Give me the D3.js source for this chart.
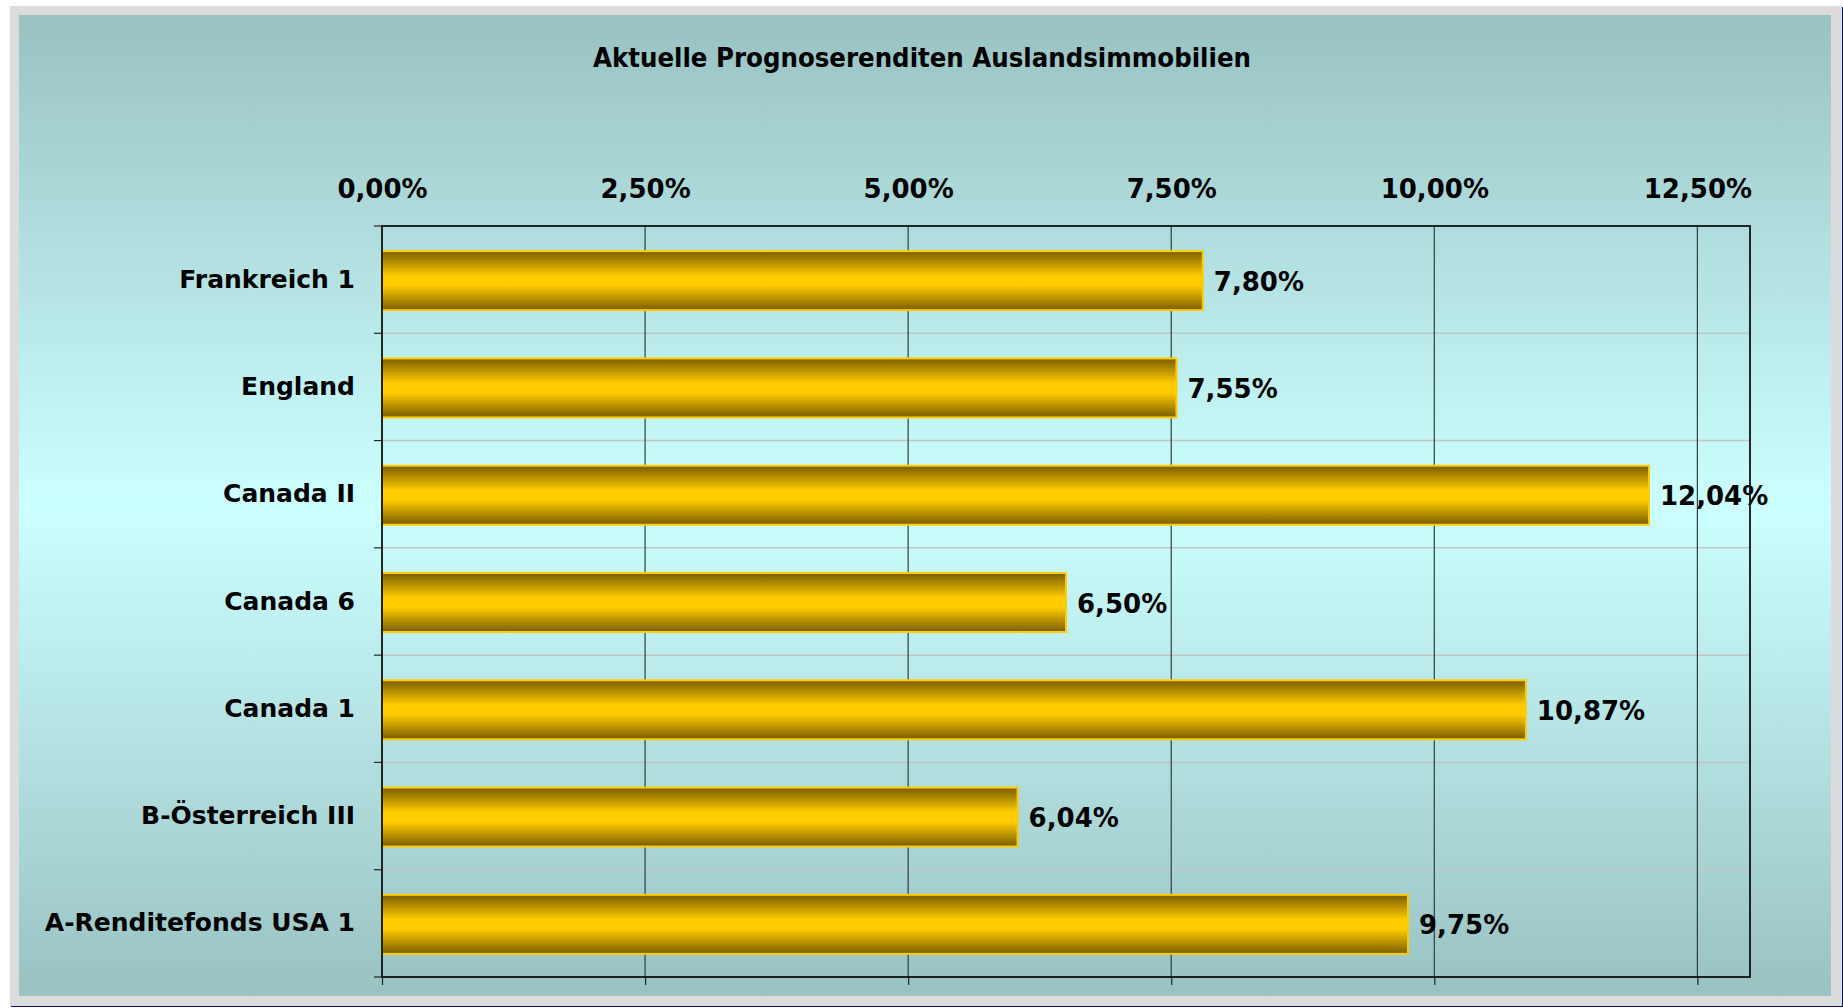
<!DOCTYPE html>
<html>
<head>
<meta charset="utf-8">
<script src="https://cdn.jsdelivr.net/npm/d3@7"></script>
<style>
    body { margin: 0; background: #ffffff; }
    svg { display: block; }
    text { font-family: "DejaVu Sans", Verdana, sans-serif; font-weight: bold; fill: #000; }
</style>
</head>
<body>
<svg id="chart" width="1843" height="1008"></svg>
<script>
// chart data
const categories = ["Frankreich 1", "England", "Canada II", "Canada 6", "Canada 1", "B-Österreich III", "A-Renditefonds USA 1"];
const values = [7.80, 7.55, 12.04, 6.50, 10.87, 6.04, 9.75];
const tickValues = [0, 2.5, 5, 7.5, 10, 12.5];
const title = "Aktuelle Prognoserenditen Auslandsimmobilien";

const svg = d3.select('#chart');

const plot = { left: 382, right: 1750, top: 226, bottom: 977 };

// german number format
const de = d3.formatLocale({ decimal: ",", thousands: ".", grouping: [3], currency: ["", " €"] });
const fmt = de.format(".2f");
const pct = function(v){ return fmt(v) + "%"; };

const defs = svg.append('defs');

// background gradient, dark at top and bottom, light in the middle
let bg = defs.append('linearGradient')
    .attr('id', 'bgGrad')
    .attr('x1', 0).attr('y1', 0).attr('x2', 0).attr('y2', 1);
bg.append('stop').attr('offset', '0%').attr('stop-color', '#99c2c1');
bg.append('stop').attr('offset', '50%').attr('stop-color', '#ccffff');
bg.append('stop').attr('offset', '100%').attr('stop-color', '#99c2c1');

// bar gradient (gold tube)
let barGrad = defs.append('linearGradient')
    .attr('id', 'barGrad')
    .attr('x1', 0).attr('y1', 0).attr('x2', 0).attr('y2', 1);
barGrad.append('stop').attr('offset', '0%').attr('stop-color', '#7a5c00');
barGrad.append('stop').attr('offset', '42%').attr('stop-color', '#ffcc00');
barGrad.append('stop').attr('offset', '58%').attr('stop-color', '#ffcc00');
barGrad.append('stop').attr('offset', '100%').attr('stop-color', '#7a5c00');

// frame
svg.append('rect')
    .attr('x', 11).attr('y', 7).attr('width', 1832).attr('height', 1000)
    .style('fill', '#0a1466');
svg.append('rect')
    .attr('x', 10).attr('y', 6).attr('width', 1832).attr('height', 1000)
    .style('fill', '#dcdcdc');
svg.append('rect')
    .attr('x', 19).attr('y', 15).attr('width', 1812).attr('height', 981)
    .style('fill', 'url(#bgGrad)');

// title
svg.append('text')
    .attr('x', 922)
    .attr('y', 67)
    .attr('text-anchor', 'middle')
    .style('font-size', '26px')
    .attr('textLength', 658)
    .attr('lengthAdjust', 'spacingAndGlyphs')
    .text(title);

// scales
const x = d3.scaleLinear()
    .domain([0, 13])
    .range([plot.left, plot.right]);

const y = d3.scaleBand()
    .domain(categories)
    .range([plot.top, plot.bottom])
    .paddingInner(0.45)
    .paddingOuter(0.225);

const step = y.step();

// horizontal light gridlines between categories
let bounds = d3.range(1, categories.length).map(i => plot.top + i * step);
svg.append('g').selectAll('line')
    .data(bounds)
    .enter()
    .append('line')
    .attr('x1', plot.left).attr('x2', plot.right)
    .attr('y1', d => d).attr('y2', d => d)
    .style('stroke', '#c0c4c4')
    .style('stroke-width', 1.5);

// vertical gridlines
svg.append('g').selectAll('line')
    .data(tickValues.slice(1))
    .enter()
    .append('line')
    .attr('x1', d => x(d)).attr('x2', d => x(d))
    .attr('y1', plot.top).attr('y2', plot.bottom)
    .style('stroke', '#2e3f3f')
    .style('stroke-width', 1.2);

// bottom axis ticks (no labels)
let xBottom = d3.axisBottom(x)
    .tickValues(tickValues)
    .tickSize(8)
    .tickFormat('');
let gb = svg.append('g')
    .attr('transform', 'translate(0,' + plot.bottom + ')')
    .call(xBottom);
gb.select('.domain').remove();
gb.selectAll('.tick line').style('stroke', '#222').style('stroke-width', 1.2);

// top axis labels
let xTop = d3.axisTop(x)
    .tickValues(tickValues)
    .tickSize(0)
    .tickPadding(28)
    .tickFormat(pct);
let gt = svg.append('g')
    .attr('transform', 'translate(0,' + plot.top + ')')
    .call(xTop);
gt.select('.domain').remove();
gt.selectAll('.tick text')
    .style('font-family', '"DejaVu Sans", Verdana, sans-serif')
    .style('font-weight', 'bold')
    .style('font-size', '26px')
    .style('fill', '#000');

// bars
svg.append('g').selectAll('rect')
    .data(values)
    .enter()
    .append('rect')
    .attr('x', x(0))
    .attr('y', (d, i) => y(categories[i]) + 1)
    .attr('width', d => x(d) - x(0))
    .attr('height', y.bandwidth())
    .style('fill', 'url(#barGrad)')
    .style('stroke', '#ffcc00')
    .style('stroke-width', 2);

// value labels
svg.append('g').selectAll('text')
    .data(values)
    .enter()
    .append('text')
    .attr('x', d => x(d) + 11)
    .attr('y', (d, i) => y(categories[i]) + y.bandwidth() / 2 + 11)
    .style('font-size', '26px')
    .text(d => pct(d));

// left axis with category labels
let yAxis = d3.axisLeft(y)
    .tickSize(0)
    .tickPadding(27);
let gl = svg.append('g')
    .attr('transform', 'translate(' + plot.left + ',0)')
    .call(yAxis);
gl.select('.domain').remove();
gl.selectAll('.tick text')
    .style('font-family', '"DejaVu Sans", Verdana, sans-serif')
    .style('font-weight', 'bold')
    .style('font-size', '25px')
    .style('fill', '#000');

// category tick marks at boundaries
svg.append('g').selectAll('line')
    .data(d3.range(0, categories.length + 1).map(i => plot.top + i * step))
    .enter()
    .append('line')
    .attr('x1', plot.left - 8).attr('x2', plot.left)
    .attr('y1', d => d).attr('y2', d => d)
    .style('stroke', '#222')
    .style('stroke-width', 1.2);

// plot border
svg.append('rect')
    .attr('x', plot.left).attr('y', plot.top)
    .attr('width', plot.right - plot.left)
    .attr('height', plot.bottom - plot.top)
    .style('fill', 'none')
    .style('stroke', '#111')
    .style('stroke-width', 1.8);
</script>
</body>
</html>
